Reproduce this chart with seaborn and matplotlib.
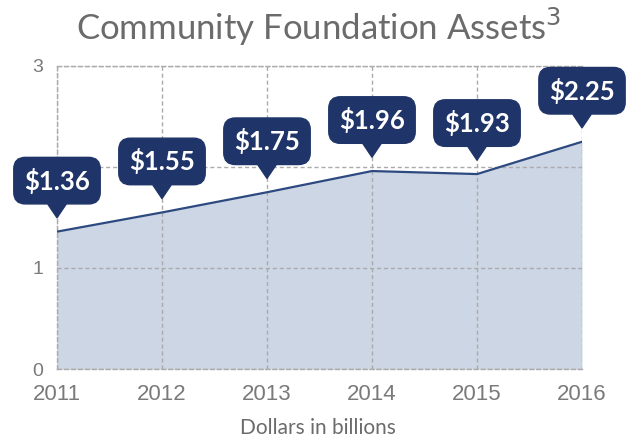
import matplotlib
matplotlib.use("Agg")
import matplotlib.pyplot as plt
import seaborn as sns
import pandas as pd

years = [2011, 2012, 2013, 2014, 2015, 2016]
assets = [1.36, 1.55, 1.75, 1.96, 1.93, 2.25]
labels = ["$1.36", "$1.55", "$1.75", "$1.96", "$1.93", "$2.25"]
yticks = [0, 1, 2, 3]
ytick_labels = ["0", "1", "", "3"]  # "2" is hidden behind the first callout

sns.set_style("white")
plt.rcParams['font.family'] = ['Liberation Sans', 'DejaVu Sans']

navy = "#1f3468"
line_c = "#2d4a80"
fill_c = "#cdd6e4"
grid_c = "#ababab"
tick_c = "#7a7a7a"

df = pd.DataFrame({"year": years, "assets": assets})

fig = plt.figure(figsize=(6.37, 4.40), dpi=100)
ax = fig.add_axes([57/637, 1-369/440, (582-57)/637, (369-66)/440])

ax.fill_between(df["year"], 0, df["assets"], color=fill_c, zorder=1, linewidth=0)
sns.lineplot(data=df, x="year", y="assets", ax=ax, color=line_c, linewidth=1.6, zorder=3)

ax.set_xlim(years[0], years[-1])
ax.set_ylim(0, 3)
ax.set_xticks(years)
ax.set_xticklabels([str(y) for y in years])
ax.set_yticks(yticks)
ax.set_yticklabels(ytick_labels)
ax.grid(True, linestyle=(0, (3, 2)), color=grid_c, linewidth=1.0, zorder=2)
ax.set_axisbelow(False)
for s in ["left", "bottom", "top"]:
    ax.spines[s].set_visible(True)
    ax.spines[s].set_linestyle((0, (3, 2)))
    ax.spines[s].set_color(grid_c)
    ax.spines[s].set_linewidth(1.0)
ax.spines["right"].set_visible(False)
ax.tick_params(axis="x", length=0, labelsize=16, labelcolor=tick_c, pad=11)
ax.tick_params(axis="y", length=0, labelsize=14, labelcolor=tick_c, pad=10)
ax.set_xlabel("")
ax.set_ylabel("")

for x, y, t in zip(years, assets, labels):
    ax.annotate(t, xy=(x, y), xytext=(0, 51), textcoords="offset pixels",
                ha="center", va="center", color="white", fontsize=18.5,
                fontweight="bold", family=["Lato", "DejaVu Sans"],
                bbox=dict(boxstyle="round,pad=0.4,rounding_size=0.45", fc=navy, ec=navy),
                arrowprops=dict(arrowstyle="wedge,tail_width=0.7", fc=navy, ec=navy,
                                shrinkA=0, shrinkB=10),
                zorder=6, annotation_clip=False)

fig.text(0.5, 1-27/440, "Community Foundation Assets$^{3}$", ha="center", va="center",
         fontsize=25, color="#6b6b6b", family=["Lato", "DejaVu Sans"])
fig.text(318/637, 1-428/440, "Dollars in billions", ha="center", va="center",
         fontsize=15, color="#6b6b6b", family=["Lato", "DejaVu Sans"])

fig.savefig("out.png", dpi=100)
